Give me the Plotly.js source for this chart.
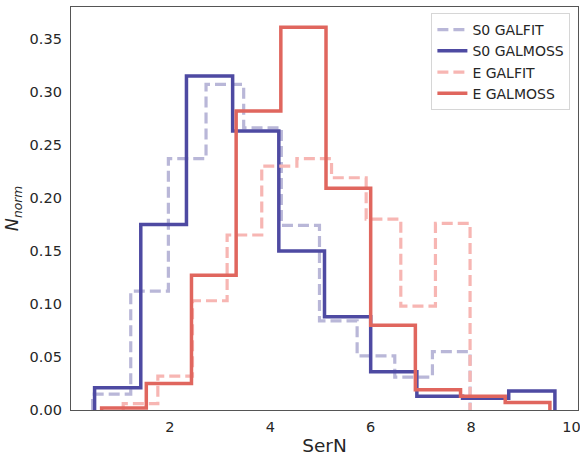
<!DOCTYPE html>
<html>
<head>
<meta charset="utf-8">
<script src="https://cdn.plot.ly/plotly-3.0.1.min.js"></script>
<style>
  html, body { margin: 0; padding: 0; background: #fff; }
  #chart { width: 580px; height: 456px; }
</style>
</head>
<body>
<div id="chart"></div>
<script>
// Series names (legend order)
const seriesNames = ["S0 GALFIT", "S0 GALMOSS", "E GALFIT", "E GALMOSS"];

// Bin edges (SerN) for each series
const s0GalfitEdges  = [0.46, 1.22, 1.97, 2.72, 3.47, 4.22, 4.98, 5.73, 6.48, 7.23, 7.98];
const s0GalmossEdges = [0.50, 1.42, 2.33, 3.25, 4.17, 5.08, 6.00, 6.92, 7.83, 8.75, 9.67];
const eGalfitEdges   = [1.07, 1.76, 2.45, 3.14, 3.83, 4.53, 5.22, 5.91, 6.60, 7.29, 7.98];
const eGalmossEdges  = [0.64, 1.53, 2.43, 3.32, 4.21, 5.11, 6.00, 6.89, 7.79, 8.68, 9.57];

// Normalised counts per bin
const s0GalfitVals  = [0.015, 0.112, 0.237, 0.307, 0.266, 0.174, 0.084, 0.051, 0.031, 0.055];
const s0GalmossVals = [0.021, 0.175, 0.315, 0.263, 0.150, 0.088, 0.036, 0.013, 0.011, 0.018];
const eGalfitVals   = [0.006, 0.032, 0.103, 0.165, 0.230, 0.237, 0.219, 0.180, 0.098, 0.176];
const eGalmossVals  = [0.002, 0.025, 0.127, 0.282, 0.361, 0.209, 0.080, 0.019, 0.013, 0.007];

// Axis ticks
const xTicks = [2, 4, 6, 8, 10];
const yTicks = [0, 0.05, 0.10, 0.15, 0.20, 0.25, 0.30, 0.35];

function stepOutline(edges, vals) {
  const x = [edges[0]], y = [0];
  for (let i = 0; i < vals.length; i++) {
    x.push(edges[i], edges[i + 1]);
    y.push(vals[i], vals[i]);
  }
  x.push(edges[edges.length - 1]);
  y.push(0);
  return {x, y};
}

const styles = [
  {color: "#b9b7d8", dash: "11px,5px", width: 3.2},
  {color: "#4e4aa2", dash: "solid", width: 3.5},
  {color: "#f7b6b3", dash: "11px,5px", width: 3.2},
  {color: "#e0665e", dash: "solid", width: 3.5}
];
const data = [
  [s0GalfitEdges, s0GalfitVals],
  [s0GalmossEdges, s0GalmossVals],
  [eGalfitEdges, eGalfitVals],
  [eGalmossEdges, eGalmossVals]
];

const traces = data.map((d, i) => {
  const o = stepOutline(d[0], d[1]);
  return {
    type: "scatter", mode: "lines", x: o.x, y: o.y, name: seriesNames[i],
    line: {color: styles[i].color, dash: styles[i].dash, width: styles[i].width},
    hoverinfo: "skip"
  };
});

const font = "DejaVu Sans, sans-serif";
const layout = {
  width: 580, height: 456,
  margin: {l: 71, r: 2, t: 7, b: 46, pad: 0},
  paper_bgcolor: "#fff", plot_bgcolor: "#fff",
  font: {family: font, color: "#262626", size: 14},
  showlegend: true,
  legend: {
    x: 0.985, y: 0.985, xanchor: "right", yanchor: "top",
    bgcolor: "rgba(255,255,255,0.8)", bordercolor: "#d6d6d6", borderwidth: 1,
    font: {family: font, size: 14, color: "#262626"},
    tracegroupgap: 0, itemwidth: 30
  },
  xaxis: {
    range: [0.03, 10.13], tickvals: xTicks, ticktext: xTicks.map(String),
    showgrid: false, zeroline: false, showline: true, mirror: true,
    linecolor: "#555", linewidth: 1.2, ticks: "outside", ticklen: 3, tickcolor: "rgba(0,0,0,0)",
    ticklabeloverflow: "allow",
    tickfont: {size: 14.5, family: font, color: "#262626"},
    title: {text: "SerN", font: {size: 18.5, family: font, color: "#262626"}, standoff: 6}
  },
  yaxis: {
    range: [0, 0.38], tickvals: yTicks, ticktext: yTicks.map(v => v.toFixed(2)),
    showgrid: false, zeroline: false, showline: true, mirror: true,
    linecolor: "#555", linewidth: 1.2, ticks: "outside", ticklen: 5, tickcolor: "rgba(0,0,0,0)",
    tickfont: {size: 14.5, family: font, color: "#262626"},
    title: {text: "<i>N</i><sub><i>norm</i></sub>", font: {size: 17.5, family: font, color: "#262626"}, standoff: 6}
  }
};

Plotly.newPlot("chart", traces, layout, {displayModeBar: false, staticPlot: true});
</script>
</body>
</html>
